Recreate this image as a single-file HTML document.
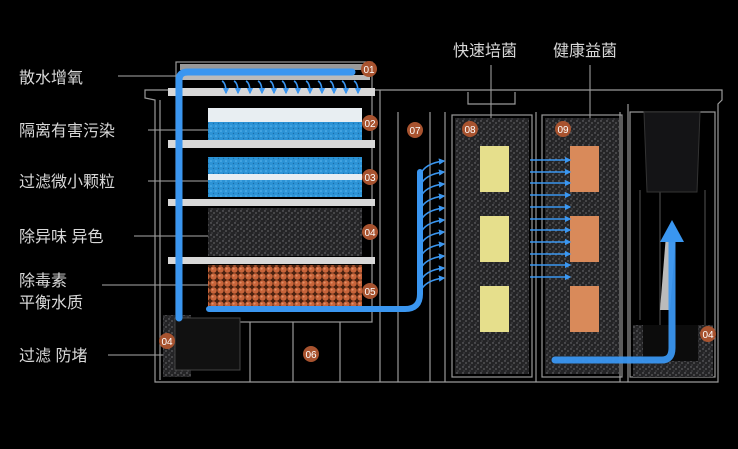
<!DOCTYPE html>
<html><head><meta charset="utf-8"><style>
html,body{margin:0;padding:0;background:#000;}
svg{display:block}
text{font-family:"Liberation Sans","Noto Sans CJK SC",sans-serif;}
</style></head><body>
<svg width="738" height="449" viewBox="0 0 738 449" xmlns="http://www.w3.org/2000/svg">
<defs>
<pattern id="sp" width="6" height="6" patternUnits="userSpaceOnUse">
<rect width="6" height="6" fill="#242426"/><circle cx="1" cy="1" r=".7" fill="#7a7a7e"/><circle cx="4" cy="3" r=".6" fill="#9a9a9e"/><circle cx="2" cy="5" r=".6" fill="#5a5a5f"/>
</pattern>
<pattern id="bl" width="5" height="5" patternUnits="userSpaceOnUse">
<rect width="5" height="5" fill="#2c93d6"/><circle cx="1" cy="1" r=".8" fill="#5cb8ef"/><circle cx="3.5" cy="3.5" r=".7" fill="#1c6ea8"/>
</pattern>
<pattern id="or" width="7" height="7" patternUnits="userSpaceOnUse">
<rect width="7" height="7" fill="#4a2210"/><circle cx="3.5" cy="3.5" r="3.2" fill="#c8643a"/><circle cx="2.6" cy="2.6" r="1" fill="#e39068"/>
</pattern>
<marker id="ah" viewBox="0 0 10 10" refX="8" refY="5" markerWidth="4" markerHeight="4" orient="auto"><path d="M0,0L10,5L0,10z" fill="#3a96f0"/></marker>
</defs>
<rect width="738" height="449" fill="#000"/>

<g fill="#d8d8d8" font-size="16">
<text x="19" y="83">散水增氧</text>
<text x="19" y="136">隔离有害污染</text>
<text x="19" y="187">过滤微小颗粒</text>
<text x="19" y="242">除异味 异色</text>
<text x="19" y="286">除毒素</text>
<text x="19" y="308">平衡水质</text>
<text x="19" y="361">过滤 防堵</text>
<text x="453" y="56">快速培菌</text>
<text x="553" y="56">健康益菌</text>
</g>
<g stroke="#aaa" stroke-width="1">
<line x1="118" y1="76" x2="178" y2="76"/>
<line x1="148" y1="130" x2="210" y2="130"/>
<line x1="148" y1="181" x2="210" y2="181"/>
<line x1="134" y1="236" x2="210" y2="236"/>
<line x1="102" y1="285" x2="210" y2="285"/>
<line x1="108" y1="355" x2="165" y2="355"/>
<line x1="491" y1="65" x2="491" y2="160"/>
<line x1="590" y1="65" x2="590" y2="160"/>
</g>

<g stroke="#9a9a9a" fill="none" stroke-width="1.2">
<path d="M145,90 H722 V100 L718,104 V382 H155 V100 L145,98 Z"/>
<line x1="160" y1="100" x2="160" y2="380"/>
<rect x="176" y="62" width="196" height="260"/>
<line x1="380" y1="90" x2="380" y2="382"/>
<line x1="398" y1="112" x2="398" y2="382"/>
<line x1="430" y1="112" x2="430" y2="382"/>
<line x1="445" y1="112" x2="445" y2="382"/>
<line x1="620" y1="112" x2="620" y2="382"/>
<line x1="628" y1="104" x2="628" y2="382"/>
<line x1="536" y1="112" x2="536" y2="382"/>
<rect x="452" y="115" width="80" height="262"/>
<rect x="542" y="115" width="80" height="262"/>
<rect x="630" y="112" width="85" height="265"/>
<line x1="250" y1="322" x2="250" y2="382"/>
<line x1="293" y1="322" x2="293" y2="382"/>
<line x1="340" y1="322" x2="340" y2="382"/>
<path d="M468,92 V104 H515 V92"/>
</g>
<g stroke="#555" stroke-width="1">
<path d="M660,190 V330 M705,190 V330 M640,190 V320"/>
</g>
<g fill="#d8d8d8">
<rect x="168" y="88" width="207" height="8"/>
<rect x="168" y="140" width="207" height="8"/>
<rect x="168" y="199" width="207" height="7"/>
<rect x="168" y="257" width="207" height="7"/>
<rect x="180" y="64" width="190" height="6" fill="#999"/>
<rect x="180" y="75" width="190" height="5" fill="#bbb"/>
</g>

<rect x="208" y="108" width="154" height="14" fill="#e8eef2"/>
<rect x="208" y="122" width="154" height="18" fill="url(#bl)"/>
<rect x="208" y="157" width="154" height="17" fill="url(#bl)"/>
<rect x="208" y="174" width="154" height="6" fill="#e8eef2"/>
<rect x="208" y="180" width="154" height="17" fill="url(#bl)"/>
<rect x="208" y="208" width="154" height="48" fill="url(#sp)"/>
<rect x="208" y="265" width="154" height="42" fill="url(#or)"/>

<rect x="455" y="118" width="74" height="256" fill="url(#sp)"/>
<rect x="545" y="118" width="74" height="256" fill="url(#sp)"/>
<rect x="480" y="146" width="29" height="46" fill="#e6df8c"/>
<rect x="480" y="216" width="29" height="46" fill="#e6df8c"/>
<rect x="480" y="286" width="29" height="46" fill="#e6df8c"/>
<rect x="570" y="146" width="29" height="46" fill="#d98a5a"/>
<rect x="570" y="216" width="29" height="46" fill="#d98a5a"/>
<rect x="570" y="286" width="29" height="46" fill="#d98a5a"/>

<rect x="633" y="325" width="80" height="52" fill="url(#sp)"/>
<path d="M644,112 H700 L697,192 H647 Z" fill="#141416" stroke="#333"/>
<rect x="643" y="325" width="55" height="36" fill="#0c0c0c"/>
<polygon points="660,310 666,235 676,235 670,310" fill="#bbb"/>

<rect x="163" y="315" width="28" height="62" fill="url(#sp)"/>
<rect x="175" y="318" width="65" height="52" fill="#111" stroke="#444"/>

<g fill="none" stroke="#3a96f0" stroke-linecap="round">
<path d="M179,318 V80 Q179,72 188,72 H352" stroke-width="7"/>
<path d="M209,309 H405 Q420,309 420,294 V172" stroke-width="6"/>
<path d="M555,360 H662 Q672,360 672,348 V240" stroke-width="7" opacity=".95"/>
</g>
<polygon points="660,242 672,220 684,242" fill="#3a96f0"/>
<g stroke="#3a96f0" stroke-width="1.6" fill="none" marker-end="url(#ah)">
<path d="M222,81 q4,2 4,12"/><path d="M234,81 q4,2 4,12"/><path d="M246,81 q4,2 4,12"/><path d="M258,81 q4,2 4,12"/><path d="M270,81 q4,2 4,12"/><path d="M282,81 q4,2 4,12"/><path d="M294,81 q4,2 4,12"/><path d="M306,81 q4,2 4,12"/><path d="M318,81 q4,2 4,12"/><path d="M330,81 q4,2 4,12"/><path d="M342,81 q4,2 4,12"/><path d="M354,81 q4,2 4,12"/>
<path d="M420,175 q5,-12 24,-14"/><path d="M420,186 q5,-12 24,-14"/><path d="M420,198 q5,-12 24,-14"/><path d="M420,210 q5,-12 24,-14"/><path d="M420,222 q5,-12 24,-14"/><path d="M420,234 q5,-12 24,-14"/><path d="M420,246 q5,-12 24,-14"/><path d="M420,258 q5,-12 24,-14"/><path d="M420,270 q5,-12 24,-14"/><path d="M420,282 q5,-12 24,-14"/><path d="M420,292 q5,-12 24,-14"/>
<path d="M530,160 h40"/><path d="M530,172 h40"/><path d="M530,183 h40"/><path d="M530,195 h40"/><path d="M530,207 h40"/><path d="M530,219 h40"/><path d="M530,230 h40"/><path d="M530,242 h40"/><path d="M530,254 h40"/><path d="M530,265 h40"/><path d="M530,277 h40"/>
</g>

<g font-size="10" fill="#fff" text-anchor="middle">
<g fill="#a8532f"><circle cx="369" cy="69" r="8"/><circle cx="370" cy="123" r="8"/><circle cx="370" cy="177" r="8"/><circle cx="370" cy="232" r="8"/><circle cx="370" cy="291" r="8"/><circle cx="167" cy="341" r="8"/><circle cx="311" cy="354" r="8"/><circle cx="415" cy="130" r="8"/><circle cx="470" cy="129" r="8"/><circle cx="563" cy="129" r="8"/><circle cx="708" cy="334" r="8"/></g>
<text x="369" y="73">01</text><text x="370" y="127">02</text><text x="370" y="181">03</text><text x="370" y="236">04</text><text x="370" y="295">05</text><text x="167" y="345">04</text><text x="311" y="358">06</text><text x="415" y="134">07</text><text x="470" y="133">08</text><text x="563" y="133">09</text><text x="708" y="338">04</text>
</g>
</svg>
</body></html>
